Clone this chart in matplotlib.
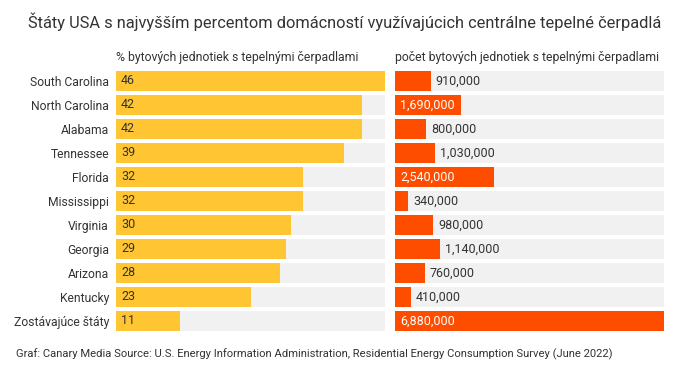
import matplotlib.pyplot as plt
from matplotlib.transforms import offset_copy

plt.rcParams['font.family'] = ['Roboto', 'DejaVu Sans']

states = ['South Carolina', 'North Carolina', 'Alabama', 'Tennessee', 'Florida',
          'Mississippi', 'Virginia', 'Georgia', 'Arizona', 'Kentucky',
          'Zostávajúce štáty']
share_pct = [46, 42, 42, 39, 32, 32, 30, 29, 28, 23, 11]
units = [910000, 1690000, 800000, 1030000, 2540000, 340000, 980000,
         1140000, 760000, 410000, 6880000]

yellow = '#FFC533'
orange = '#FF4D00'
track = '#F1F1F1'
text_col = '#333333'

fig = plt.figure(figsize=(6.74, 3.79), dpi=100)
ax1 = fig.add_axes([116 / 674, 46 / 379, 269 / 674, 264 / 379])
ax2 = fig.add_axes([395 / 674, 46 / 379, 269 / 674, 264 / 379])

y = list(range(len(states)))
h = 20 / 24

# left panel: percent
ax1.barh(y, [max(share_pct)] * len(y), height=h, color=track)
ax1.barh(y, share_pct, height=h, color=yellow)
for i, v in enumerate(share_pct):
    t = offset_copy(ax1.transData, fig=fig, x=5, y=0, units='dots')
    ax1.text(0, i, str(v), transform=t, va='center', ha='left',
             fontsize=9, color=text_col)
ax1.set_xlim(0, max(share_pct))
ax1.set_yticks(y)
ax1.set_yticklabels(states, fontsize=8.7, color=text_col)
ax1.tick_params(axis='y', length=0, pad=5)

# right panel: number of units
ax2.barh(y, [max(units)] * len(y), height=h, color=track)
ax2.barh(y, units, height=h, color=orange)
for i, v in enumerate(units):
    label = f'{v:,}'
    t = offset_copy(ax2.transData, fig=fig, x=5, y=0, units='dots')
    if v > 1500000:
        ax2.text(0, i, label, transform=t, va='center', ha='left',
                 fontsize=9, color='white')
    else:
        ax2.text(v, i, label, transform=t, va='center', ha='left',
                 fontsize=9, color=text_col)
ax2.set_xlim(0, max(units))
ax2.set_yticks([])

for ax in (ax1, ax2):
    ax.set_ylim(len(y) - 0.5, -0.5)
    ax.set_xticks([])
    for s in ax.spines.values():
        s.set_visible(False)

fig.text(116 / 674, 1 - 58 / 379, '% bytových jednotiek s tepelnými čerpadlami',
         fontsize=8.8, color=text_col, va='center', ha='left')
fig.text(395 / 674, 1 - 58 / 379, 'počet bytových jednotiek s tepelnými čerpadlami',
         fontsize=8.8, color=text_col, va='center', ha='left')

fig.text(28 / 674, 1 - 22 / 379,
         'Štáty USA s najvyšším percentom domácností využívajúcich centrálne tepelné čerpadlá',
         fontsize=11.8, color=text_col, va='center', ha='left')
fig.text(16 / 674, 1 - 354 / 379,
         'Graf: Canary Media Source: U.S. Energy Information Administration, '
         'Residential Energy Consumption Survey (June 2022)',
         fontsize=8.1, color=text_col, va='center', ha='left')

fig.savefig('out.png', dpi=100, facecolor='white')
